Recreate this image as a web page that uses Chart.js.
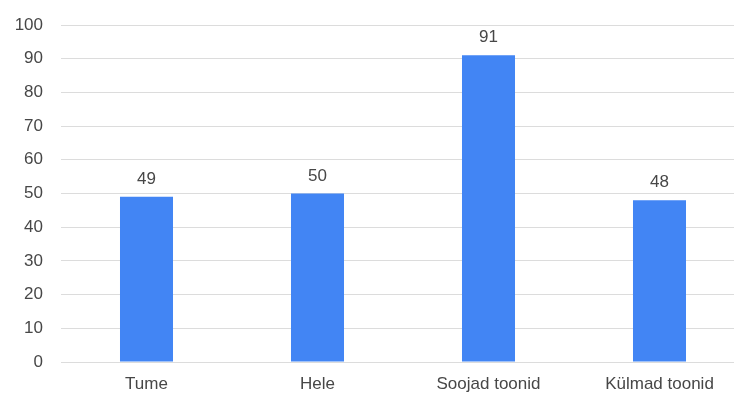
<!DOCTYPE html>
<html>
<head>
<meta charset="utf-8">
<script src="https://cdn.jsdelivr.net/npm/chart.js@4/dist/chart.umd.min.js"></script>
<style>
  html, body { margin: 0; padding: 0; background: #fff; overflow: hidden; }
  #wrap { position: relative; width: 745px; height: 396px; }
</style>
</head>
<body>
<div id="wrap"><canvas id="c"></canvas></div>
<script>
const categories = ["Tume", "Hele", "Soojad toonid", "Külmad toonid"];
const values = [49, 50, 91, 48];
const yTicks = [0, 10, 20, 30, 40, 50, 60, 70, 80, 90, 100];

const textColor = "#474747";
const fontFamily = "'Liberation Sans', Arial, sans-serif";
const fontSize = 17;

// Draws each bar's value centred above it
const valueLabels = {
  id: "valueLabels",
  afterDatasetsDraw(chart) {
    const ctx = chart.ctx;
    const meta = chart.getDatasetMeta(0);
    ctx.save();
    ctx.font = fontSize + "px " + fontFamily;
    ctx.fillStyle = textColor;
    ctx.textAlign = "center";
    ctx.textBaseline = "alphabetic";
    meta.data.forEach((bar, i) => {
      ctx.fillText(String(values[i]), bar.x, bar.y - 13);
    });
    ctx.restore();
  }
};

new Chart(document.getElementById("c"), {
  type: "bar",
  data: {
    labels: categories,
    datasets: [{
      data: values,
      backgroundColor: "#4285f4",
      borderWidth: 0,
      barPercentage: 0.31,
      categoryPercentage: 1.0
    }]
  },
  options: {
    responsive: true,
    maintainAspectRatio: false,
    animation: false,
    layout: { padding: { top: 25, right: 0, left: 0, bottom: 0 } },
    plugins: {
      legend: { display: false },
      tooltip: { enabled: false }
    },
    scales: {
      x: {
        grid: { display: false, drawTicks: false },
        border: { display: false },
        ticks: {
          color: textColor,
          font: { family: fontFamily, size: fontSize },
          padding: 12,
          maxRotation: 0
        },
        afterFit(scale) { scale.height = 34; }
      },
      y: {
        min: 0,
        max: 100,
        afterBuildTicks(scale) { scale.ticks = yTicks.map(v => ({ value: v })); },
        grid: { color: "#dcdcdc", lineWidth: 1, drawTicks: false },
        border: { display: false },
        ticks: {
          color: textColor,
          font: { family: fontFamily, size: fontSize },
          padding: 18
        },
        afterFit(scale) {
          scale.width = 61;
          scale.paddingTop = 0;
          scale.paddingBottom = 0;
        }
      }
    }
  },
  plugins: [valueLabels]
});
</script>
</body>
</html>
